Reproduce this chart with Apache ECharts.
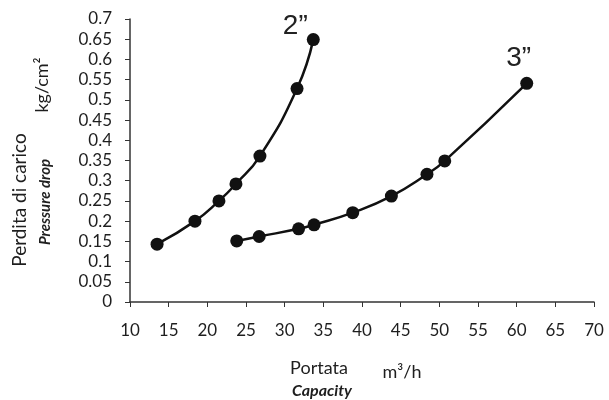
<!DOCTYPE html>
<html><head><meta charset="utf-8">
<script src="https://cdn.jsdelivr.net/npm/echarts@6/dist/echarts.min.js"></script>
<style>html,body{margin:0;padding:0;background:#fff}#c{width:609px;height:400px}</style>
</head><body><div id="c"></div>
<script>
const seriesNames = ['2”', '3”'];
const flow2 = [13.5, 18.4, 21.5, 23.7, 26.8, 31.6, 33.7];
const drop2 = [0.143, 0.200, 0.250, 0.292, 0.361, 0.528, 0.649];
const flow3 = [23.8, 26.7, 31.8, 33.8, 38.8, 43.8, 48.4, 50.7, 61.3];
const drop3 = [0.151, 0.162, 0.181, 0.191, 0.221, 0.262, 0.316, 0.349, 0.541];

const font = 'Lato, Open Sans, sans-serif';
const txt = '#1e1e1e';
function pts(xs, ys, lbl, off) {
  return xs.map((x, i) => {
    const d = { value: [x, ys[i]] };
    if (i === xs.length - 1) {
      d.label = { show: true, formatter: lbl, position: 'top', offset: off,
        fontSize: 28, color: '#222', fontFamily: 'Liberation Sans, Arial, sans-serif' };
    }
    return d;
  });
}
const chart = echarts.init(document.getElementById('c'));
chart.setOption({
  animation: false,
  grid: { left: 130, right: 15, top: 19, bottom: 98 },
  xAxis: {
    type: 'value', min: 10, max: 70, interval: 5,
    axisLine: { lineStyle: { color: '#333', width: 1.5 } },
    axisTick: { show: true, length: 5, lineStyle: { color: '#333' } },
    axisLabel: { fontSize: 17, color: txt, margin: 20, fontFamily: font },
    splitLine: { show: false }
  },
  yAxis: {
    type: 'value', min: 0, max: 0.7, interval: 0.05,
    axisLine: { show: true, lineStyle: { color: '#333', width: 1.5 } },
    axisTick: { show: true, length: 5, lineStyle: { color: '#333' } },
    axisLabel: { fontSize: 17, color: txt, margin: 18, fontFamily: font },
    splitLine: { show: false }
  },
  series: [
    { name: seriesNames[0], type: 'line', smooth: true, data: pts(flow2, drop2, seriesNames[0], [-18, 12]),
      symbol: 'circle', symbolSize: 13, itemStyle: { color: '#111' }, lineStyle: { color: '#111', width: 2.5 } },
    { name: seriesNames[1], type: 'line', smooth: true, data: pts(flow3, drop3, seriesNames[1], [-8, 0]),
      symbol: 'circle', symbolSize: 13, itemStyle: { color: '#111' }, lineStyle: { color: '#111', width: 2.5 } }
  ],
  graphic: [
    { type: 'text', x: 20, y: 200, rotation: Math.PI / 2, style: { text: 'Perdita di carico', fontSize: 19, fill: txt, fontFamily: font, align: 'center', verticalAlign: 'middle' } },
    { type: 'text', x: 45, y: 202, rotation: Math.PI / 2, style: { text: 'Pressure drop', fontSize: 15, fontStyle: 'italic', fontWeight: 'bold', fill: txt, fontFamily: font, align: 'center', verticalAlign: 'middle' } },
    { type: 'text', x: 42, y: 85, rotation: Math.PI / 2, style: { text: 'kg/cm²', fontSize: 18, fill: txt, fontFamily: font, align: 'center', verticalAlign: 'middle' } },
    { type: 'text', x: 319, y: 368, style: { text: 'Portata', fontSize: 18, fill: txt, fontFamily: font, align: 'center', verticalAlign: 'middle' } },
    { type: 'text', x: 322, y: 391, style: { text: 'Capacity', fontSize: 16, fontStyle: 'italic', fontWeight: 'bold', fill: txt, fontFamily: font, align: 'center', verticalAlign: 'middle' } },
    { type: 'text', x: 402, y: 372, style: { text: 'm³/h', fontSize: 18, fill: txt, fontFamily: font, align: 'center', verticalAlign: 'middle' } }
  ]
});
</script></body></html>
